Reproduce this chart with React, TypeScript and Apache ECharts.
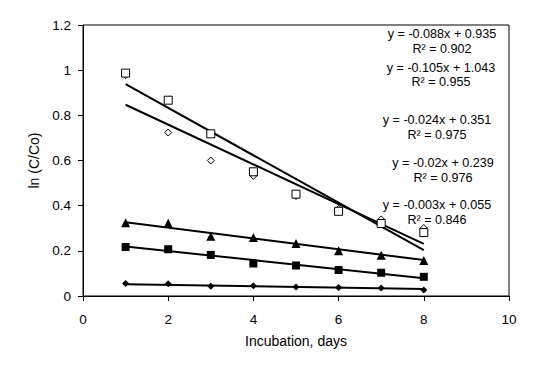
import React, { useEffect, useRef } from "react";
import * as echarts from "echarts";

const days = [1, 2, 3, 4, 5, 6, 7, 8];
const openSquares = [0.987, 0.867, 0.718, 0.55, 0.451, 0.375, 0.321, 0.281];
const openDiamonds = [0.978, 0.724, 0.6, 0.532, 0.442, 0.386, 0.339, 0.301];
const filledTriangles = [0.324, 0.322, 0.265, 0.259, 0.232, 0.2, 0.18, 0.157];
const filledSquares = [0.217, 0.207, 0.182, 0.144, 0.135, 0.115, 0.103, 0.085];
const filledDiamonds = [0.055, 0.054, 0.043, 0.045, 0.04, 0.038, 0.035, 0.027];

// trendline equations (slope, intercept, R²), top to bottom as labelled
const slopes = [-0.088, -0.105, -0.024, -0.02, -0.003];
const intercepts = [0.935, 1.043, 0.351, 0.239, 0.055];
const r2s = ["0.902", "0.955", "0.975", "0.976", "0.846"];

const xTicks = [0, 2, 4, 6, 8, 10];
const yTicks = [0, 0.2, 0.4, 0.6, 0.8, 1, 1.2];

// label layout (pixel centers)
const labelPos = [
  { x: 442, y1: 34, y2: 48.5 },
  { x: 441, y1: 67.5, y2: 82 },
  { x: 437, y1: 120, y2: 135 },
  { x: 443, y1: 162.5, y2: 177.5 },
  { x: 437, y1: 205, y2: 219.5 },
];

const FONT = "Arial, 'Liberation Sans', sans-serif";

export default function App() {
  const ref = useRef<HTMLDivElement>(null);
  useEffect(() => {
    if (!ref.current) return;
    const chart = echarts.init(ref.current, undefined, { renderer: "svg" });
    const pts = (ys: number[]) => days.map((d, i) => [d, ys[i]]);
    const trend = (k: number) => {
      const x0 = days[0];
      const x1 = days[days.length - 1];
      return {
        type: "line",
        data: [
          [x0, slopes[k] * x0 + intercepts[k]],
          [x1, slopes[k] * x1 + intercepts[k]],
        ],
        symbol: "none",
        lineStyle: { color: "#000", width: 2 },
        z: 2,
        silent: true,
      };
    };
    const scatter = (ys: number[], symbol: string, size: number, open: boolean) => ({
      type: "scatter",
      data: pts(ys),
      symbol,
      symbolSize: size,
      itemStyle: open
        ? { color: "#fff", borderColor: "#000", borderWidth: 1, opacity: 1 }
        : { color: "#000", opacity: 1 },
      z: 3,
    });
    const graphics: any[] = [];
    slopes.forEach((s, k) => {
      const p = labelPos[k];
      const sign = intercepts[k] >= 0 ? "+" : "-";
      graphics.push({
        type: "text",
        x: p.x,
        y: p.y1,
        style: {
          text: `y = ${s}x ${sign} ${Math.abs(intercepts[k])}`,
          fill: "#000",
          font: `12.6px ${FONT}`,
          align: "center",
          verticalAlign: "middle",
        },
        z: 10,
      });
      graphics.push({
        type: "text",
        x: p.x,
        y: p.y2,
        style: {
          text: `R² = ${r2s[k]}`,
          fill: "#000",
          font: `12.6px ${FONT}`,
          align: "center",
          verticalAlign: "middle",
        },
        z: 10,
      });
    });
    chart.setOption({
      animation: false,
      backgroundColor: "#fff",
      textStyle: { fontFamily: FONT },
      grid: {
        left: 83,
        right: 46,
        top: 25,
        bottom: 76,
        show: true,
        borderColor: "#000",
        borderWidth: 1,
        backgroundColor: "transparent",
      },
      xAxis: {
        type: "value",
        min: xTicks[0],
        max: xTicks[xTicks.length - 1],
        interval: 2,
        name: "Incubation, days",
        nameLocation: "middle",
        nameGap: 38,
        nameTextStyle: { color: "#000", fontSize: 14, fontFamily: FONT },
        axisLine: { show: true, lineStyle: { color: "#000", width: 1 } },
        axisTick: { show: true, length: 5, inside: false, lineStyle: { color: "#000" } },
        axisLabel: { color: "#000", fontSize: 13.5, margin: 16, fontFamily: FONT },
        splitLine: { show: false },
      },
      yAxis: {
        type: "value",
        min: yTicks[0],
        max: yTicks[yTicks.length - 1],
        interval: 0.2,
        name: "ln (C/Co)",
        nameLocation: "middle",
        nameRotate: 90,
        nameGap: 38,
        nameTextStyle: { color: "#000", fontSize: 14, fontFamily: FONT },
        axisLine: { show: true, lineStyle: { color: "#000", width: 1 } },
        axisTick: { show: true, length: 5, inside: false, lineStyle: { color: "#000" } },
        axisLabel: {
          color: "#000",
          fontSize: 13.5,
          margin: 12,
          fontFamily: FONT,
          formatter: (v: number) => String(Math.round(v * 10) / 10),
        },
        splitLine: { show: false },
      },
      series: [
        trend(0),
        trend(1),
        trend(2),
        trend(3),
        trend(4),
        scatter(openDiamonds, "diamond", 7, true),
        scatter(openSquares, "rect", 8, true),
        scatter(filledTriangles, "triangle", 9, false),
        scatter(filledSquares, "rect", 8, false),
        scatter(filledDiamonds, "diamond", 7, false),
      ],
      graphic: graphics,
    });
    return () => chart.dispose();
  }, []);
  return (
    <div
      ref={ref}
      style={{ position: "absolute", left: 0, top: 0, width: 555, height: 372 }}
    />
  );
}
